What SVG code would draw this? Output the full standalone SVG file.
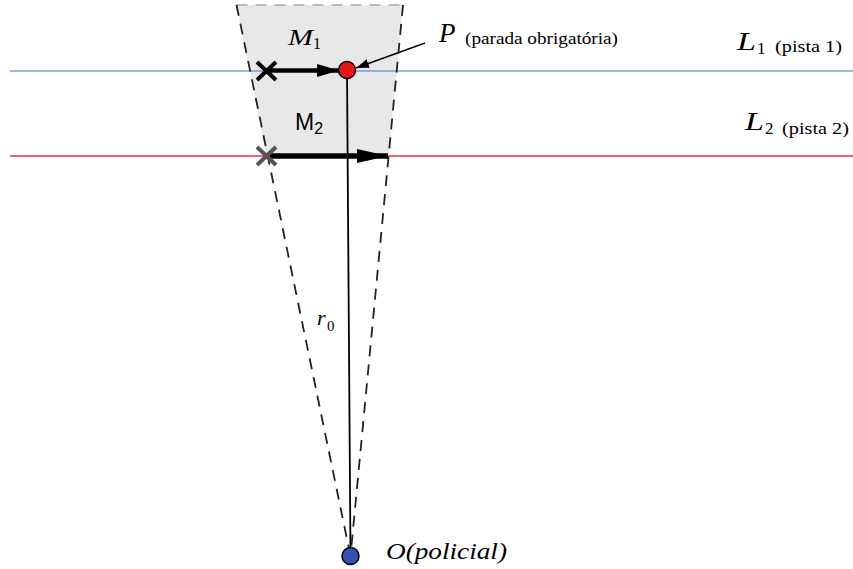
<svg xmlns="http://www.w3.org/2000/svg" width="853" height="569" viewBox="0 0 853 569">
<style>
.serif{font-family:"Liberation Serif","DejaVu Serif",serif;}
.sans{font-family:"Liberation Sans",Arial,sans-serif;}
.it{font-style:italic;}
.dash{fill:none;stroke:#222;stroke-width:1.8;stroke-dasharray:11 8;}
</style>
<defs>
<marker id="ah1" viewBox="0 0 22 13" refX="22" refY="6.5" markerWidth="22" markerHeight="13" markerUnits="userSpaceOnUse" orient="auto"><path d="M0,0 L22,6.5 L0,13 z" fill="#000"/></marker>
<marker id="ah2" viewBox="0 0 31 14" refX="31" refY="7" markerWidth="31" markerHeight="14" markerUnits="userSpaceOnUse" orient="auto"><path d="M0,0 L31,7 L0,14 z" fill="#000"/></marker>
<marker id="ahs" viewBox="0 0 13 9" refX="13" refY="4.5" markerWidth="13" markerHeight="9" markerUnits="userSpaceOnUse" orient="auto"><path d="M0,0 L13,4.5 L0,9 z" fill="#000"/></marker>
</defs>
<rect width="853" height="569" fill="#fff"/>
<g id="region">
<polygon points="236.5,5 403,5 388.5,156 266.5,156" fill="#e8e8e8"/>
<line x1="236.5" y1="5" x2="403" y2="5" stroke="#aaa" stroke-width="1.6" stroke-dasharray="11 8"/>
</g>
<g id="lanes">
<line x1="10" y1="71" x2="853" y2="71" stroke="#4a6fd1" stroke-width="1.2"/>
<line x1="10" y1="156" x2="853" y2="156" stroke="#e8333a" stroke-width="1.4"/>
</g>
<g id="connectors">
<line class="dash" x1="236.5" y1="5" x2="350.5" y2="556"/>
<line class="dash" x1="403" y1="5" x2="350.5" y2="556"/>
<line x1="347" y1="71" x2="350.5" y2="556" stroke="#000" stroke-width="1.8"/>
<line x1="266" y1="70.5" x2="339" y2="70.5" stroke="#000" stroke-width="4.5" marker-end="url(#ah1)"/>
<line x1="266" y1="156" x2="388" y2="156" stroke="#000" stroke-width="5.5" marker-end="url(#ah2)"/>
<line x1="425" y1="43" x2="356" y2="68" stroke="#000" stroke-width="1.4" marker-end="url(#ahs)"/>
</g>
<g id="x1">
<path d="M257,62 L276,80 M276,62 L257,80" stroke="#000" stroke-width="4"/>
</g>
<g id="x2">
<path d="M257,147 L276,165 M276,147 L257,165" stroke="#555" stroke-width="4"/>
</g>
<g id="P">
<circle cx="347" cy="70" r="8.5" fill="#e8141c" stroke="#000" stroke-width="1.5"/>
</g>
<g id="O">
<circle cx="350.5" cy="556" r="8.5" fill="#3152b0" stroke="#000" stroke-width="1.5"/>
</g>
<g id="labels">
<text x="288" y="45" class="serif it" font-size="24" textLength="25" lengthAdjust="spacingAndGlyphs">M</text>
<text x="313" y="49" class="serif" font-size="16">1</text>
<text x="295" y="130" class="sans" font-size="23">M<tspan font-size="16" dy="4">2</tspan></text>
<text x="439" y="42" class="serif it" font-size="27">P</text>
<text x="465" y="44" class="serif" font-size="17" textLength="153" lengthAdjust="spacingAndGlyphs">(parada obrigatória)</text>
<text x="737" y="50" class="serif it" font-size="26" textLength="19" lengthAdjust="spacingAndGlyphs">L</text>
<text x="757" y="54" class="serif" font-size="17">1</text>
<text x="775" y="52" class="serif" font-size="17" textLength="67" lengthAdjust="spacingAndGlyphs">(pista 1)</text>
<text x="745" y="130" class="serif it" font-size="26" textLength="19" lengthAdjust="spacingAndGlyphs">L</text>
<text x="765" y="134" class="serif" font-size="17">2</text>
<text x="782" y="134" class="serif" font-size="17" textLength="67" lengthAdjust="spacingAndGlyphs">(pista 2)</text>
<text x="317" y="325" class="serif it" font-size="22">r</text>
<text x="327" y="331" class="serif" font-size="15">0</text>
<text x="386" y="559" class="serif it" font-size="23" textLength="121" lengthAdjust="spacingAndGlyphs">O(policial)</text>
</g>
</svg>
